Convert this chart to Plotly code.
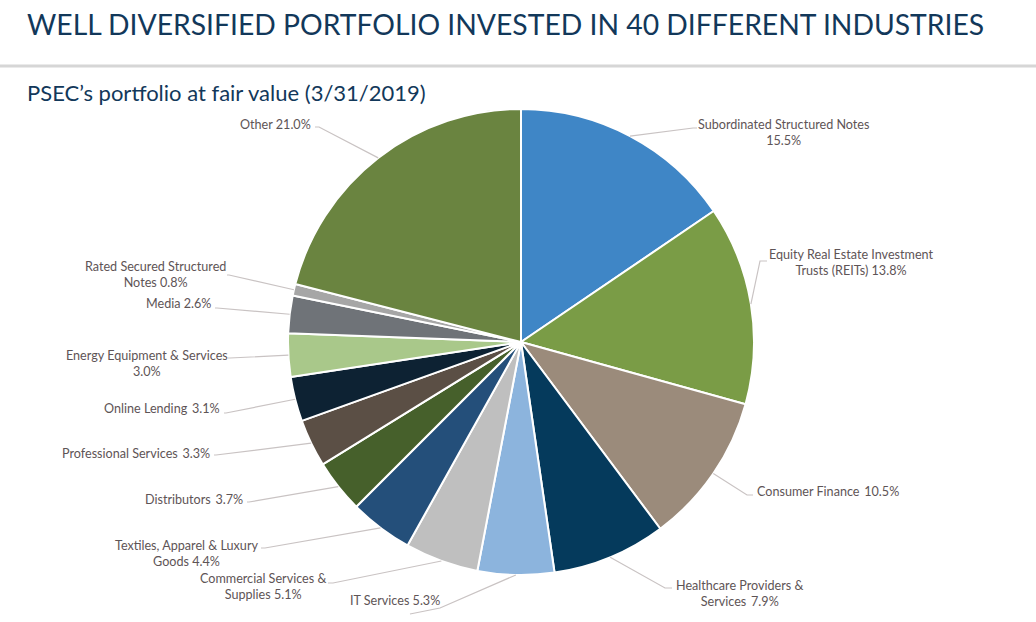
import math
import plotly.graph_objects as go

# ---- data ----
names = [
    "Subordinated Structured Notes", "Equity Real Estate Investment Trusts (REITs)",
    "Consumer Finance", "Healthcare Providers & Services", "IT Services",
    "Commercial Services & Supplies", "Textiles, Apparel & Luxury Goods",
    "Distributors", "Professional Services", "Online Lending",
    "Energy Equipment & Services", "Media", "Rated Secured Structured Notes", "Other",
]
values = [15.5, 13.8, 10.5, 7.9, 5.3, 5.1, 4.4, 3.7, 3.3, 3.1, 3.0, 2.6, 0.8, 21.0]
# how each label is typeset (line breaks / spacing) before the percentage
SP2 = " \u2009"
label_names = [
    "Subordinated Structured Notes<br>", "Equity Real Estate Investment<br>Trusts (REITs) ",
    "Consumer Finance" + SP2, "Healthcare Providers &<br>Services" + SP2, "IT Services ",
    "Commercial Services &<br>Supplies ", "Textiles, Apparel & Luxury<br>Goods ",
    "Distributors" + SP2, "Professional Services" + SP2, "Online Lending" + SP2,
    "Energy Equipment & Services<br>", "Media ", "Rated Secured Structured<br>Notes ", "Other ",
]
colors = ["#3f86c6", "#7a9c46", "#9b8b7b", "#053a5c", "#8cb4dd", "#bfbfbf", "#244f7a",
          "#46602b", "#5b4f45", "#0d2233", "#a9c88a", "#6f7378", "#a6a6a6", "#6a8440"]

# ---- layout (pixels) ----
W, H = 1036, 622
CX, CY, R = 521, 342, 233
# label anchor: (x, y, xanchor), leader end (x, y), elbow end (x, y)
label_pos = [
    (783, 133, "center", (693, 128), (697, 128)),
    (851, 262, "center", (760, 261), (767, 261)),
    (755, 491, "left", (747, 495), (753, 495)),
    (739, 593, "center", (665, 588), (672, 588)),
    (348, 600, "left", (440, 608), (410, 614)),
    (263, 586, "center", (333, 583), (328, 583)),
    (186, 553, "center", (265, 548), (261, 548)),
    (245, 499, "right", (249, 502), (247, 502)),
    (212, 453, "right", (216, 455), (214, 455)),
    (222, 408, "right", (226, 413), (224, 413)),
    (147, 363, "center", (230, 358), (228, 358)),
    (213, 303, "right", (217, 308), (215, 308)),
    (155, 274, "center", (229, 275), (227, 275)),
    (313, 124, "right", (319, 127), (315, 127)),
]


def px(x):
    return x / W


def py(y):
    return 1 - y / H


fig = go.Figure(go.Pie(
    values=values, labels=names, sort=False, direction="clockwise", rotation=0,
    marker=dict(colors=colors, line=dict(color="white", width=2)),
    textinfo="none", hoverinfo="label+percent", showlegend=False,
    domain=dict(x=[px(CX - R), px(CX + R)], y=[py(CY + R), py(CY - R)]),
))

TEXT_COLOR = "#5e5456"
LINE_COLOR = "#c9c3c3"
total = sum(values)
cum = 0.0
shapes = []
annotations = []
for v, lab, pos in zip(values, label_names, label_pos):
    mid = (cum + v / 2) / total * 2 * math.pi
    cum += v
    sx = CX + R * math.sin(mid)
    sy = CY - R * math.cos(mid)
    tx, ty, xa, (ex, ey), (fx, fy) = pos
    shapes.append(dict(
        type="path", xref="paper", yref="paper",
        path=f"M {px(sx)},{py(sy)} L {px(ex)},{py(ey)} L {px(fx)},{py(fy)}",
        line=dict(color=LINE_COLOR, width=1.2),
    ))
    annotations.append(dict(
        text=f"{lab}{v:.1f}%", x=px(tx), y=py(ty), xref="paper", yref="paper",
        xanchor=xa, yanchor="middle", align="center", showarrow=False,
        font=dict(family="Lato", size=12.6, color=TEXT_COLOR),
    ))

shapes.append(dict(type="line", xref="paper", yref="paper", x0=0, x1=1,
                   y0=py(66), y1=py(66), line=dict(color="#d6d6d6", width=3)))

annotations.append(dict(
    text="WELL DIVERSIFIED PORTFOLIO INVESTED IN 40 DIFFERENT INDUSTRIES",
    x=px(25), y=py(24), xref="paper", yref="paper", xanchor="left", yanchor="middle",
    showarrow=False, font=dict(family="Lato", size=28.3, color="#12385a"),
))
annotations.append(dict(
    text="PSEC\u2019s portfolio at fair value (3/31/2019)",
    x=px(25), y=py(93), xref="paper", yref="paper", xanchor="left", yanchor="middle",
    showarrow=False, font=dict(family="Lato", size=22, color="#12385a"),
))

fig.update_layout(
    width=W, height=H, margin=dict(l=0, r=0, t=0, b=0),
    paper_bgcolor="white", plot_bgcolor="white",
    shapes=shapes, annotations=annotations,
)

fig.write_html("out.html", config={"displayModeBar": False},
               post_script="document.body.style.margin='0';")
